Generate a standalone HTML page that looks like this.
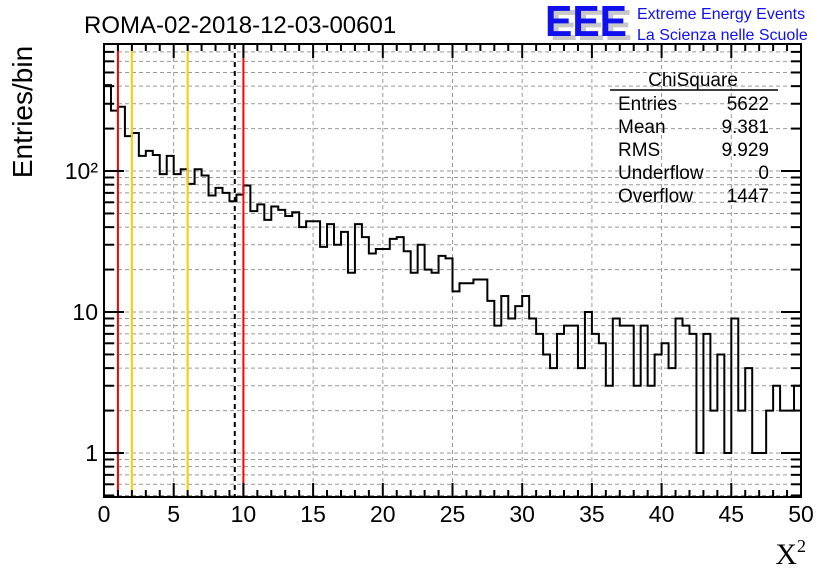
<!DOCTYPE html>
<html><head><meta charset="utf-8"><style>
body{margin:0;background:#fff}
svg{display:block;font-family:"Liberation Sans",sans-serif}
</style></head><body>
<svg id="c" width="836" height="572">
<text x="84" y="33" font-size="24">ROMA-02-2018-12-03-00601</text>
<g>
<text x="550" y="40" font-size="44" font-weight="bold" fill="#c8c8c8" textLength="82" lengthAdjust="spacingAndGlyphs">EEE</text>
<text x="545" y="36" font-size="44" font-weight="bold" fill="#1010ee" textLength="82" lengthAdjust="spacingAndGlyphs">EEE</text>
<text x="637" y="19" font-size="16" fill="#1010ee">Extreme Energy Events</text>
<text x="637" y="40" font-size="16" fill="#1010ee">La Scienza nelle Scuole</text>
</g>
<g id="grid"></g><g id="marks"></g><g id="axes"></g>
<g font-size="19">
<text x="693" y="86" text-anchor="middle">ChiSquare</text>
<line x1="610" y1="90" x2="778" y2="90" stroke="#000" stroke-width="1.5"/>
<text x="618" y="110">Entries</text><text x="769" y="110" text-anchor="end">5622</text>
<text x="618" y="133">Mean</text><text x="769" y="133" text-anchor="end">9.381</text>
<text x="618" y="156">RMS</text><text x="769" y="156" text-anchor="end">9.929</text>
<text x="618" y="179">Underflow</text><text x="769" y="179" text-anchor="end">0</text>
<text x="618" y="202">Overflow</text><text x="769" y="202" text-anchor="end">1447</text>
</g>
<text transform="translate(32,112) rotate(-90)" font-size="28" text-anchor="middle">Entries/bin</text>
<text x="806" y="564" font-size="30" font-family="Liberation Serif,serif" text-anchor="end">X<tspan font-size="18" dy="-12">2</tspan></text>
</svg>
<script>
const binWidth = 0.5;
const counts = [407,268,286,177,186,128,139,130,95,128,95,103,81,103,93,67,76,70,61,68,79,52,58,45,56,53,48,51,40,44,44,29,42,30,37,19,42,34,26,28,28,33,34,27,19,30,20,19,25,24,14,16,16,17,17,12,8,13,9,11,13,9,7,5,4,7,8,8,4,10,7,6,3,9,8,8,3,8,3,5,6,4,9,8,7,1,7,2,5,1,9,2,4,1,1,2,3,2,2,3];
const xTicks = [0,5,10,15,20,25,30,35,40,45,50];
const yMajor = [1,10,100];
const yMajorLabels = ["1","10","10²"];
const refLines = [{v:1,c:"#ff0000",d:""},{v:2,c:"#ffcc00",d:""},{v:6,c:"#ffcc00",d:""},{v:9.381,c:"#000",d:"5,4"},{v:10,c:"#ff0000",d:""}];
const L=104,R=801,T=44,B=497, X0=0,X1=50, LY0=-0.312, LY1=2.901;
const ns="http://www.w3.org/2000/svg";
const sx=v=>L+(v-X0)/(X1-X0)*(R-L);
const sy=v=>B-(Math.log10(v)-LY0)/(LY1-LY0)*(B-T);
function mk(p,tag,at){const e=document.createElementNS(ns,tag);for(const k in at)e.setAttribute(k,at[k]);document.getElementById(p).appendChild(e);return e;}
for(let d=-1;d<=2;d++)for(let m=1;m<=9;m++){const v=m*Math.pow(10,d);const y=sy(v);if(y<T||y>B)continue;
 const g=mk('grid','line',{x1:L,x2:R,y1:y,y2:y,stroke:'#999','stroke-dasharray':'4,3','stroke-width':1});
 
 }
xTicks.forEach(t=>{if(t==X0||t==X1)return;const g=mk('grid','line',{x1:sx(t),x2:sx(t),y1:T,y2:B,stroke:'#999','stroke-dasharray':'4,3','stroke-width':1});
 
 });
let d='M'+sx(0)+','+B;
counts.forEach((c,i)=>{const y=Math.max(T,Math.min(B,sy(c)));d+=' L'+sx(i*binWidth)+','+y+' L'+sx((i+1)*binWidth)+','+y;});
d+=' L'+sx(counts.length*binWidth)+','+B;
const h=mk('marks','path',{d:d,fill:'none',stroke:'#000','stroke-width':2});


refLines.forEach(r=>{const l=mk('marks','line',{x1:sx(r.v),x2:sx(r.v),y1:T,y2:B,stroke:r.c,'stroke-width':2,'stroke-dasharray':r.d});
 
 });
const f=mk('axes','rect',{x:L,y:T,width:R-L,height:B-T,fill:'none',stroke:'#000','stroke-width':2});


for(let t=X0;t<=X1;t+=1){const big=t%5==0,len=big?14:7;
 mk('axes','line',{x1:sx(t),x2:sx(t),y1:B,y2:B-len,stroke:'#000','stroke-width':2});
 mk('axes','line',{x1:sx(t),x2:sx(t),y1:T,y2:T+len,stroke:'#000','stroke-width':2});}
xTicks.forEach(t=>{const e=mk('axes','text',{x:sx(t),y:B+25,'font-size':23,'text-anchor':'middle'});e.textContent=t;
 
 });
for(let d2=-1;d2<=2;d2++)for(let m=1;m<=9;m++){const y=sy(m*Math.pow(10,d2));if(y<T||y>B)continue;const len=m==1?20:10;
 mk('axes','line',{x1:L,x2:L+len,y1:y,y2:y,stroke:'#000','stroke-width':2});
 mk('axes','line',{x1:R,x2:R-len,y1:y,y2:y,stroke:'#000','stroke-width':2});}
yMajor.forEach((v,i)=>{const e=mk('axes','text',{x:98,y:sy(v)+8,'font-size':23,'text-anchor':'end'});e.textContent=yMajorLabels[i];
 
 });
</script>
</body></html>
